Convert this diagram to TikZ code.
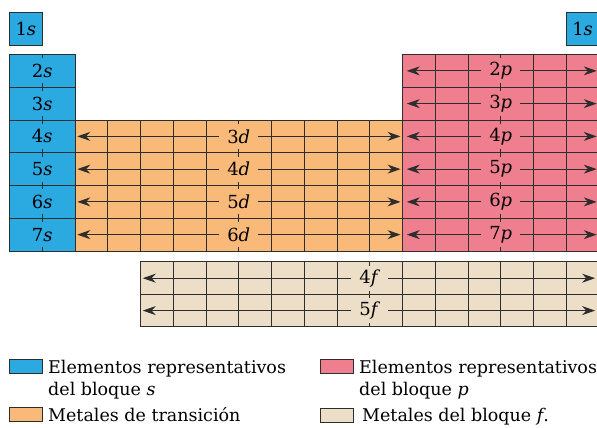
\documentclass[tikz,border=0pt]{standalone}
\usepackage{fontspec}
\setmainfont{DejaVu Serif}
\usepackage{xcolor}
\usetikzlibrary{arrows.meta}

\definecolor{sblue}{RGB}{43,169,225}
\definecolor{dorange}{RGB}{249,185,120}
\definecolor{ppink}{RGB}{239,127,143}
\definecolor{fbeige}{RGB}{237,222,200}
\definecolor{linegray}{RGB}{45,45,45}

\begin{document}
\begin{tikzpicture}[x=1pt, y=-1pt,
    gridline/.style={draw=linegray, line width=0.9pt},
    lbl/.style={fill=#1, minimum height=25pt, inner xsep=8pt, inner ysep=0pt, font=\fontsize{18}{20}\selectfont},
    cellbox/.style={gridline, fill=sblue, minimum width=32.75pt, minimum height=32.75pt, inner sep=0pt, font=\fontsize{18}{20}\selectfont},
    arr/.style={-{Stealth[length=13pt, width=9pt]}, draw=linegray, line width=0.9pt},
    key/.style={gridline, minimum width=33pt, minimum height=14pt, inner sep=0pt},
    keytext/.style={anchor=base west, inner sep=0pt, font=\fontsize{17.5}{20}\selectfont}
]
\useasboundingbox (0,0) rectangle (597,428);
\clip (0,0) rectangle (597,428);

\begin{scope}[shift={(9.5,54.5)}, x=32.75pt, y=-32.75pt]
% blocks
\fill[sblue] (0,0) rectangle (2,6);
\fill[dorange] (2,2) rectangle (12,6);
\fill[ppink] (12,0) rectangle (18,6);
\fill[fbeige] (4,6.33) rectangle (18,8.31);

% rows and columns
\foreach \y in {2,...,5} \draw[gridline] (0,\y) -- (18,\y);
\draw[gridline] (0,1) -- (2,1) (12,1) -- (18,1);
\foreach \x in {1,2,12,13,14,15,16,17} \draw[gridline] (\x,0) -- (\x,6);
\foreach \x in {3,...,11} \draw[gridline] (\x,2) -- (\x,6);
\foreach \x in {5,...,17} \draw[gridline] (\x,6.33) -- (\x,8.31);
\draw[gridline] (4,7.32) -- (18,7.32);
\draw[gridline] (0,0) rectangle (2,6) (2,2) rectangle (12,6) (12,0) rectangle (18,6) (4,6.33) rectangle (18,8.31);

% hydrogen / helium
\node[cellbox] (s1) at (0.5,-0.79) {1\textit{s}};
\node[cellbox] (s1r) at (17.5,-0.79) {1\textit{s}};

% s block
\foreach \k in {2,...,7}
  \node[lbl=sblue] (s\k) at (1,\k-1.5) {\k\textit{s}};

% d block
\foreach \k/\n in {4/3,5/4,6/5,7/6} {
  \node[lbl=dorange] (d\n) at (7,\k-1.5) {\n\textit{d}};
  \coordinate (d\n-w) at (2.07,\k-1.5);
  \coordinate (d\n-e) at (11.94,\k-1.5);
  \draw[arr] (d\n) -- (d\n-w);
  \draw[arr] (d\n) -- (d\n-e);
}

% p block
\foreach \k in {2,...,7} {
  \node[lbl=ppink] (p\k) at (15,\k-1.5) {\k\textit{p}};
  \coordinate (p\k-w) at (12.13,\k-1.5);
  \coordinate (p\k-e) at (17.93,\k-1.5);
  \draw[arr] (p\k) -- (p\k-w);
  \draw[arr] (p\k) -- (p\k-e);
}

% f block
\foreach \k/\y in {4/6.83,5/7.82} {
  \node[lbl=fbeige] (f\k) at (11,\y) {\k\textit{f}};
  \coordinate (f\k-w) at (4.07,\y);
  \coordinate (f\k-e) at (17.88,\y);
  \draw[arr] (f\k) -- (f\k-w);
  \draw[arr] (f\k) -- (f\k-e);
}
\end{scope}

% legend
\node[key, fill=sblue] (key-s) at (25.8,366) {};
\node[keytext] (txt-s1) at (48,373.3) {Elementos representativos};
\node[keytext] (txt-s2) at (48,395) {del bloque \textit{s}};
\node[key, fill=dorange] (key-d) at (25.8,414) {};
\node[keytext] (txt-d) at (48,421) {Metales de transición};
\node[key, fill=ppink] (key-p) at (336.7,366) {};
\node[keytext] (txt-p1) at (359,373.3) {Elementos representativos};
\node[keytext] (txt-p2) at (359,395) {del bloque \textit{p}};
\node[key, fill=fbeige] (key-f) at (336.7,415) {};
\node[keytext] (txt-f) at (362,421) {Metales del bloque \textit{f}.};
\end{tikzpicture}
\end{document}
